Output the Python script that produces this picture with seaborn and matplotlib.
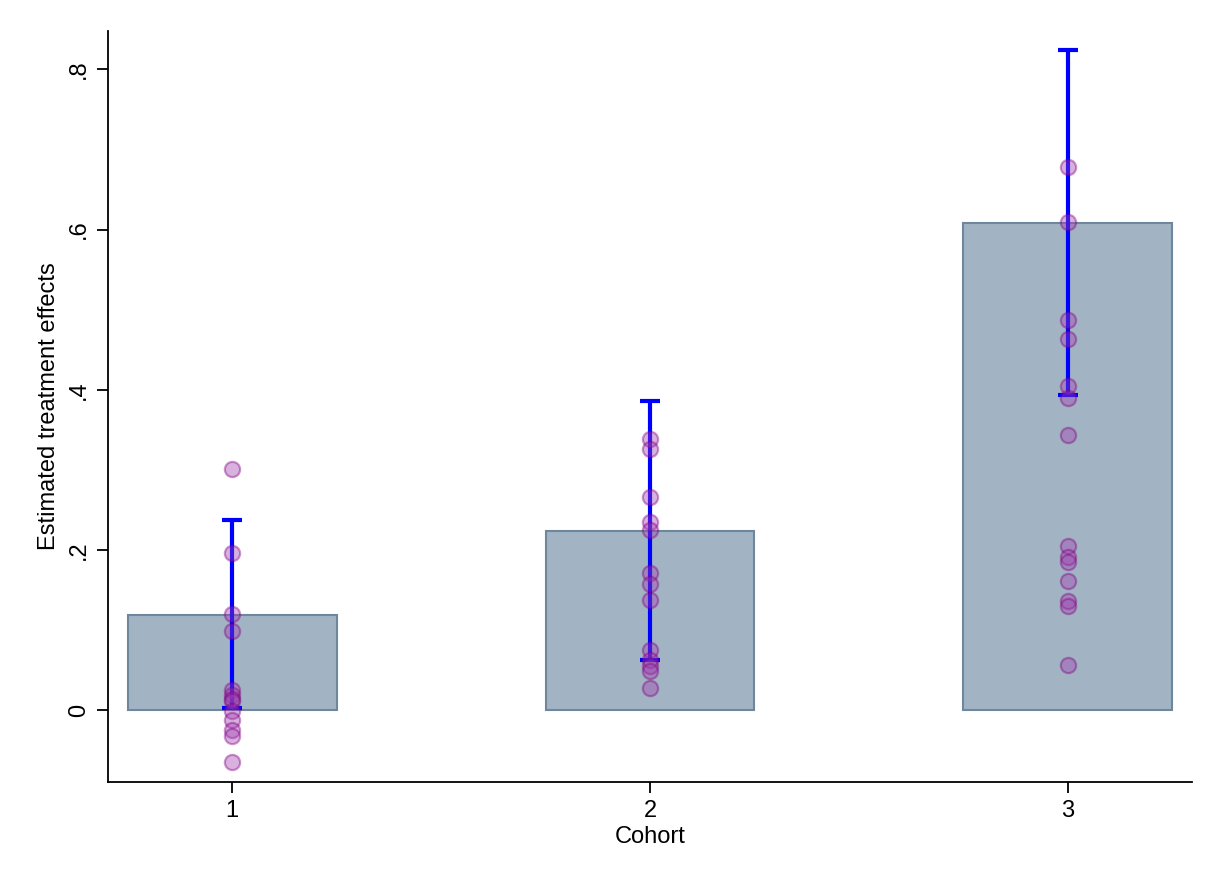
import matplotlib
matplotlib.use("Agg")
import matplotlib.pyplot as plt
import seaborn as sns
import pandas as pd
import numpy as np

# ---- data ----
cohorts = ["1", "2", "3"]
estimates = [0.119, 0.224, 0.608]
ci_low = [0.003, 0.063, 0.394]
ci_high = [0.237, 0.386, 0.824]

pts_c1 = [0.301, 0.196, 0.120, 0.099, 0.025, 0.019, 0.014, 0.011, -0.001, -0.013, -0.025, -0.033, -0.065]
pts_c2 = [0.338, 0.326, 0.266, 0.235, 0.225, 0.171, 0.157, 0.138, 0.075, 0.062, 0.055, 0.049, 0.027]
pts_c3 = [0.678, 0.609, 0.487, 0.463, 0.405, 0.390, 0.343, 0.205, 0.191, 0.185, 0.161, 0.136, 0.130, 0.056]

y_ticks = [0, 0.2, 0.4, 0.6, 0.8]
y_tick_labels = ["0", ".2", ".4", ".6", ".8"]

# ---- tables ----
bars_df = pd.DataFrame({"Cohort": cohorts, "est": estimates})
pts_df = pd.DataFrame({
    "Cohort": ["1"] * len(pts_c1) + ["2"] * len(pts_c2) + ["3"] * len(pts_c3),
    "effect": pts_c1 + pts_c2 + pts_c3,
})

sns.set_theme(style="white")
plt.rcParams["font.family"] = ["Liberation Sans", "DejaVu Sans"]
plt.rcParams["text.color"] = "black"
plt.rcParams["axes.labelcolor"] = "black"
plt.rcParams["xtick.color"] = "black"
plt.rcParams["ytick.color"] = "black"

fig = plt.figure(figsize=(12.24, 8.9), dpi=100)
ax = fig.add_axes([0.0882, 0.1217, 0.8857, 0.8435])

sns.barplot(data=bars_df, x="Cohort", y="est", order=cohorts, width=0.5,
            color="#a2b4c3", saturation=1, errorbar=None, ax=ax,
            edgecolor="#6e879c", linewidth=1.5)
for p in ax.patches:
    p.set_facecolor("#a2b4c3")

pos = np.arange(len(cohorts))
est = np.array(estimates)
ax.errorbar(pos, est, yerr=[est - np.array(ci_low), np.array(ci_high) - est],
            fmt="none", ecolor="#0000ff", elinewidth=3, capsize=7, capthick=3,
            zorder=3)

sns.stripplot(data=pts_df, x="Cohort", y="effect", order=cohorts, jitter=False,
              color="#a03cb0", alpha=0.4, size=11, linewidth=1.6,
              edgecolor="#800080", ax=ax, zorder=4)

ax.set_xlim(-0.297, 2.297)
ax.set_ylim(-0.0895, 0.848)
ax.set_yticks(y_ticks)
ax.set_yticklabels(y_tick_labels, rotation=90, va="center")
ax.set_xticks(pos)
ax.set_xticklabels(cohorts)

ax.set_xlabel("Cohort", fontsize=17, labelpad=3)
ax.set_ylabel("Estimated treatment effects", fontsize=17, labelpad=6)
ax.tick_params(axis="both", which="major", labelsize=17, length=8, width=1.3,
               direction="out", color="black", labelcolor="black",
               left=True, bottom=True, pad=5)

for s in ["top", "right"]:
    ax.spines[s].set_visible(False)
for s in ["left", "bottom"]:
    ax.spines[s].set_color("black")
    ax.spines[s].set_linewidth(1.3)

ax.grid(False)
fig.savefig("out.png", dpi=100, facecolor="white")
